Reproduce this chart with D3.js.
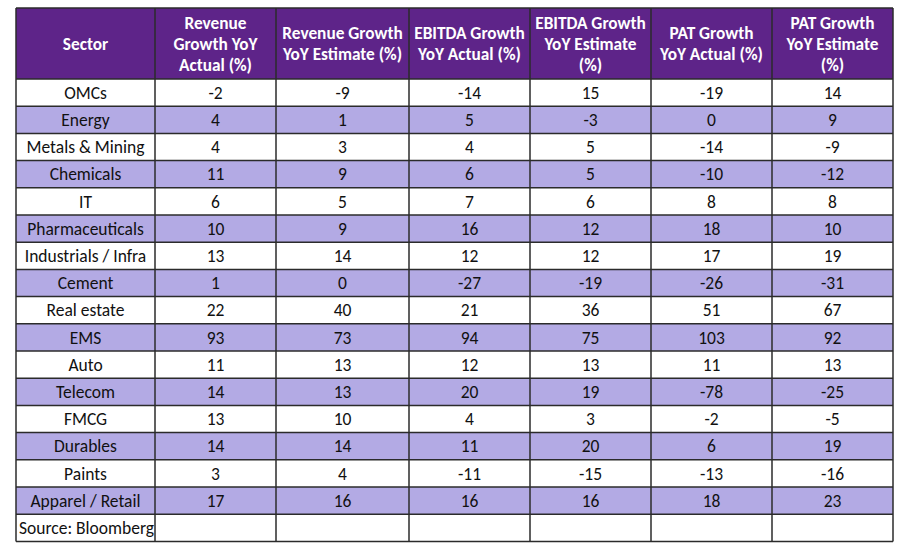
<!DOCTYPE html>
<html><head><meta charset="utf-8">
<script src="https://cdn.jsdelivr.net/npm/d3@7"></script>
<style>body{margin:0;background:#fff;} svg{display:block;}</style>
</head><body><svg id="c" width="903" height="555"></svg>
<script>
const headers = [
  ["Sector"],
  ["Revenue","Growth YoY","Actual (%)"],
  ["Revenue Growth","YoY Estimate (%)"],
  ["EBITDA Growth","YoY Actual (%)"],
  ["EBITDA Growth","YoY Estimate","(%)"],
  ["PAT Growth","YoY Actual (%)"],
  ["PAT Growth","YoY Estimate","(%)"]
];
const sectors = ["OMCs","Energy","Metals & Mining","Chemicals","IT","Pharmaceuticals","Industrials / Infra","Cement","Real estate","EMS","Auto","Telecom","FMCG","Durables","Paints","Apparel / Retail"];
const revActual   = [-2,4,4,11,6,10,13,1,22,93,11,14,13,14,3,17];
const revEstimate = [-9,1,3,9,5,9,14,0,40,73,13,13,10,14,4,16];
const ebitdaActual   = [-14,5,4,6,7,16,12,-27,21,94,12,20,4,11,-11,16];
const ebitdaEstimate = [15,-3,5,5,6,12,12,-19,36,75,13,19,3,20,-15,16];
const patActual   = [-19,0,-14,-10,8,18,17,-26,51,103,11,-78,-2,6,-13,18];
const patEstimate = [14,9,-9,-12,8,10,19,-31,67,92,13,-25,-5,19,-16,23];
const sourceNote = "Source: Bloomberg";

(function(){
const colWidths = [139,121,133,121,121,121,121];
const left = 16, topY = 8, headerH = 71, rowH = 27.2;
const font = "Calibri, Carlito, Lato, 'Open Sans', sans-serif";

const svg = d3.select("#c");
const colEdges = [left];
colWidths.forEach(w => colEdges.push(colEdges[colEdges.length-1] + w));
const right = colEdges[colEdges.length-1];

const rows = sectors.map((s,i)=>[s, revActual[i], revEstimate[i], ebitdaActual[i], ebitdaEstimate[i], patActual[i], patEstimate[i]]);
rows.push([sourceNote,"","","","","",""]);

const y = d3.scaleBand().domain(d3.range(rows.length)).range([topY+headerH, topY+headerH+rowH*rows.length]);
const x = d3.scaleOrdinal().domain(d3.range(7)).range(colEdges.slice(0,7));
const bottom = topY+headerH+rowH*rows.length;

svg.append("rect").attr("x",left).attr("y",topY).attr("width",right-left).attr("height",headerH).attr("fill","#5E2489");
svg.selectAll("rect.row").data(rows).join("rect").attr("class","row")
  .attr("x",left).attr("y",(d,i)=>y(i)).attr("width",right-left).attr("height",y.bandwidth())
  .attr("fill",(d,i)=> (i%2===1 && i<sectors.length) ? "#B3AAE4" : "#FFFFFF");

headers.forEach((lines,c)=>{
  const cx = x(c) + colWidths[c]/2;
  const lh = 21;
  const start = topY + headerH/2 - (lines.length-1)*lh/2;
  const t = svg.append("text").attr("text-anchor","middle").attr("fill","#fff")
    .attr("font-family",font).attr("font-weight","bold").attr("font-size",17.3);
  lines.forEach((l,k)=> t.append("tspan").attr("x",cx).attr("y",start+k*lh).attr("dy","0.35em").text(l));
});

rows.forEach((r,i)=>{
  r.forEach((v,c)=>{
    if (v==="") return;
    const isSrc = i===sectors.length && c===0;
    svg.append("text")
      .attr("x", isSrc ? x(c)+3 : x(c)+colWidths[c]/2)
      .attr("y", y(i)+y.bandwidth()/2).attr("dy","0.35em")
      .attr("text-anchor", isSrc ? "start" : "middle")
      .attr("font-family",font).attr("font-size",17.5).attr("fill","#111")
      .text(v);
  });
});

const g = svg.append("g").attr("stroke","#2b2b2b").attr("stroke-width",1.5);
colEdges.forEach(cx=> g.append("line").attr("x1",cx).attr("x2",cx).attr("y1",topY).attr("y2",bottom));
const hEdges = [topY, topY+headerH].concat(d3.range(rows.length).map(i=>y(i)+y.bandwidth()));
hEdges.forEach(hy=> g.append("line").attr("x1",left).attr("x2",right).attr("y1",hy).attr("y2",hy));
})();
</script></body></html>
